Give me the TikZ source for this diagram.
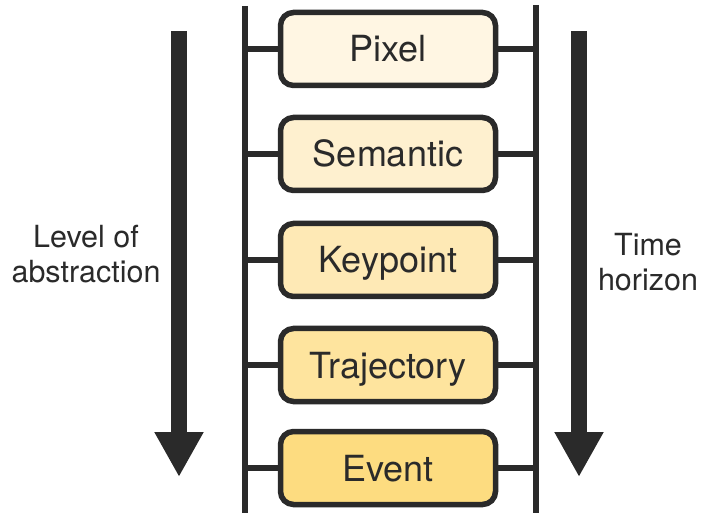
\documentclass[tikz,border=0pt]{standalone}
\usepackage{fontspec}
\setmainfont{TeX Gyre Heros}
\usetikzlibrary{arrows.meta}
\definecolor{ink}{HTML}{2A2A2A}
\definecolor{lvA}{HTML}{FFF6E3}
\definecolor{lvB}{HTML}{FEF0CF}
\definecolor{lvC}{HTML}{FEE9B5}
\definecolor{lvD}{HTML}{FEE49E}
\definecolor{lvE}{HTML}{FDDC80}
\tikzset{
  levelbox/.style={draw=ink, line width=5.5pt, rounded corners=13pt,
    minimum width=215pt, minimum height=73pt, inner sep=0pt,
    text height=26pt, text depth=0pt,
    text=ink, font=\fontsize{36}{40}\selectfont},
  rail/.style={draw=ink, line width=5.5pt},
  bigarrow/.style={draw=ink, line width=16pt, -{Triangle[length=45pt,width=46pt]}},
  sidelabel/.style={text=ink, align=center, font=\fontsize{30.5}{34.5}\selectfont, inner sep=0pt}
}
\begin{document}
\begin{tikzpicture}[x=1pt,y=-1pt]
\useasboundingbox (0,0) rectangle (702,513);

% ladder rails
\coordinate (lt) at (245,6);
\coordinate (lb) at (245,513);
\coordinate (rt) at (536,5);
\coordinate (rb) at (536,513);
\draw[rail] (lt) -- (lb);
\draw[rail] (rt) -- (rb);

% levels
\node[levelbox, fill=lvA] (pixel) at (388,49)  {Pixel};
\node[levelbox, fill=lvB] (sem)   at (388,154) {Semantic};
\node[levelbox, fill=lvC] (kp)    at (388,260) {Keypoint};
\node[levelbox, fill=lvD] (traj)  at (388,365) {Trajectory};
\node[levelbox, fill=lvE] (event) at (388,468) {Event};

% rungs
\foreach \b in {pixel,sem,kp,traj,event}{
  \draw[rail] (lt |- \b.west) -- (\b.west);
  \draw[rail] (\b.east) -- (rt |- \b.east);
}

% direction arrows
\coordinate (la1) at (179,31);
\coordinate (la2) at (179,477);
\coordinate (ra1) at (579,31);
\coordinate (ra2) at (579,477);
\draw[bigarrow] (la1) -- (la2);
\draw[bigarrow] (ra1) -- (ra2);

% side labels
\node[sidelabel] (abs) at (86,254) {Level of\\abstraction};
\node[sidelabel] (hor) at (648,262) {Time\\horizon};
\end{tikzpicture}
\end{document}
